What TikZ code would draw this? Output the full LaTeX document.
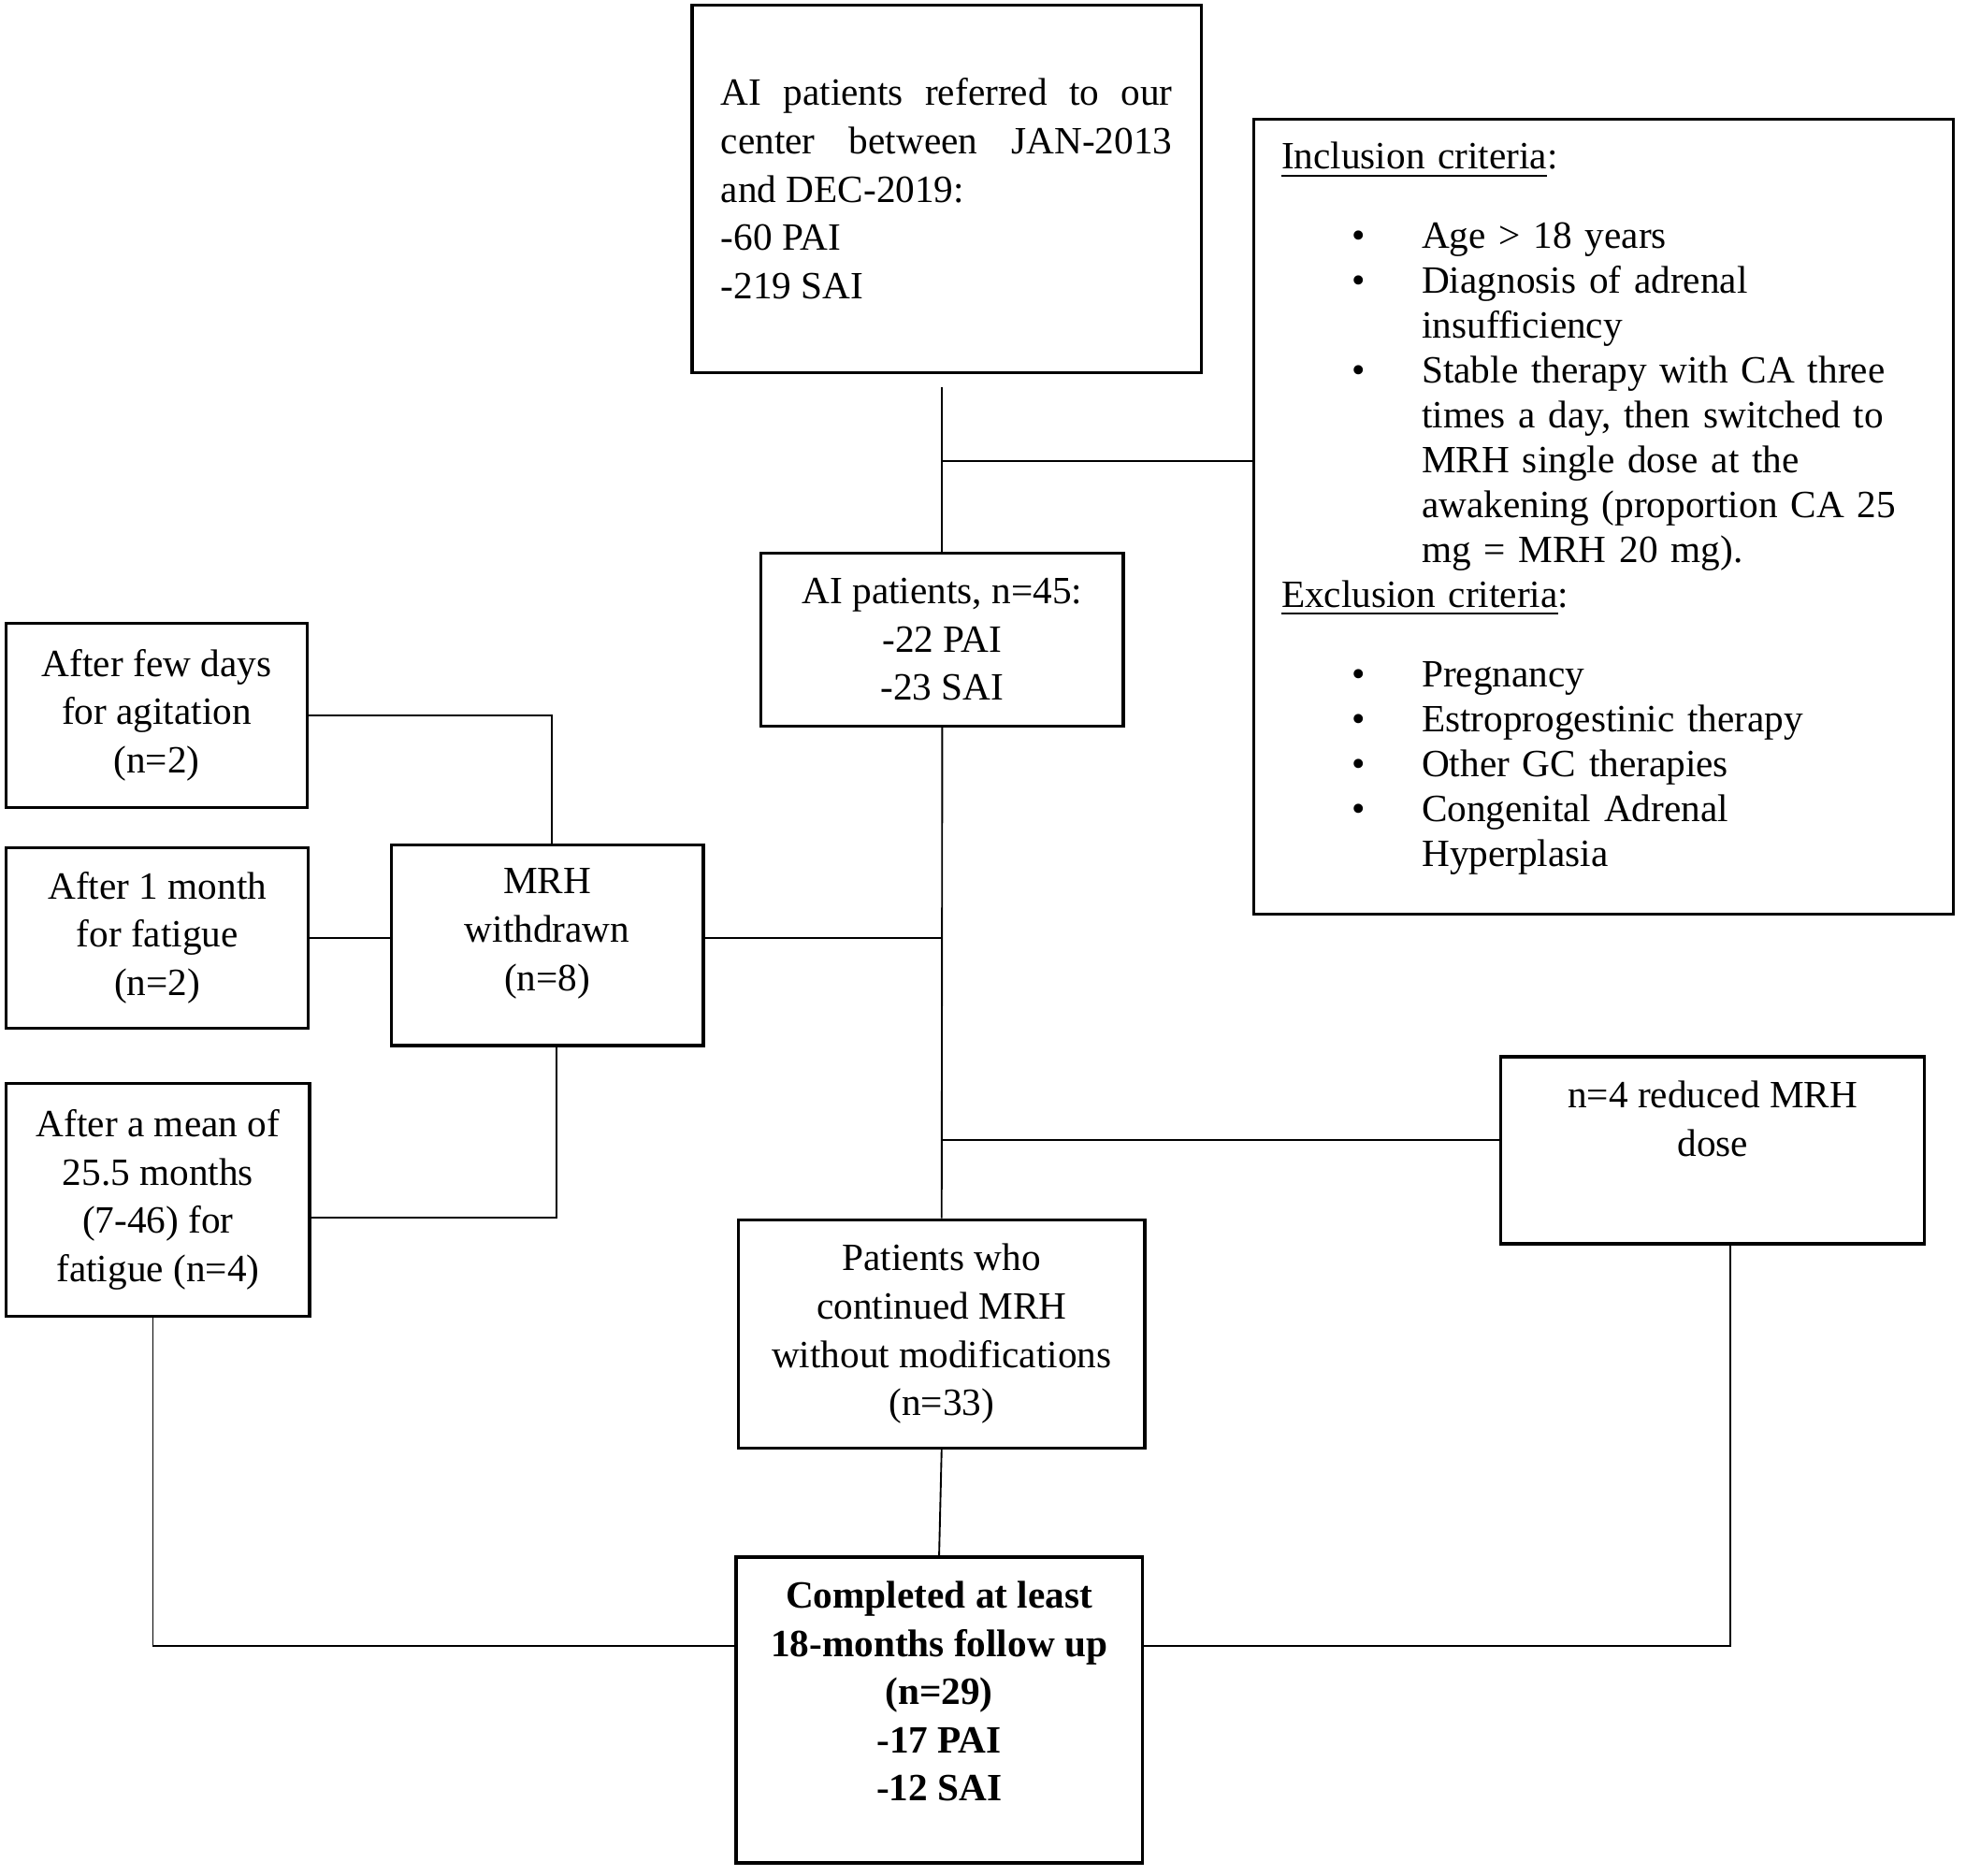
\documentclass[tikz,border=0pt]{standalone}
\usepackage{fontspec}
\setmainfont{Liberation Serif}
\usepackage{tikz}

\newcommand{\critbullet}{\hspace*{5.6mm}\makebox[5.6mm][l]{\textbullet}}
\newcommand{\critindent}{\hspace*{11.2mm}}
\newcommand{\lowpad}[1]{\rule[-#1]{0pt}{#1}}

\tikzset{
  box/.style={draw, line width=0.7pt, inner sep=0pt, align=center},
  link/.style={line width=0.4pt},
}

\begin{document}
\begin{tikzpicture}[x=0.1mm, y=-0.1mm]
  \fontsize{8.76pt}{10.95pt}\selectfont
  \useasboundingbox (0,0) rectangle (1568,1496);

  \node[box, minimum width=40.6mm, minimum height=29.3mm, text width=36mm, align=justify] (top) at (755,150.5)
    {AI patients referred to our\linebreak center between JAN-2013\linebreak and DEC-2019:\\-60 PAI\\-219 SAI};
  \node[box, minimum width=55.8mm, minimum height=63.4mm, text width=51.4mm, align=left,
        font=\fontsize{8.76pt}{10.19pt}\selectfont] (crit) at (1279,412)
    {\underline{Inclusion criteria}:\\[2.7mm]
     \critbullet Age > 18 years\\
     \critbullet Diagnosis of adrenal\\
     \critindent insufficiency\\
     \critbullet Stable therapy with CA three\\
     \critindent times a day, then switched to\\
     \critindent MRH single dose at the\\
     \critindent awakening (proportion CA 25\\
     \critindent mg = MRH 20 mg).\\
     \underline{Exclusion criteria}:\\[2.8mm]
     \critbullet Pregnancy\\
     \critbullet Estroprogestinic therapy\\
     \critbullet Other GC therapies\\
     \critbullet Congenital Adrenal\\
     \critindent Hyperplasia\lowpad{1.9mm}};
  \node[box, minimum width=28.9mm, minimum height=13.8mm] (ai) at (751.5,510) {AI patients, n=45:\\-22 PAI\\-23 SAI};
  \node[box, minimum width=24mm, minimum height=14.7mm] (few) at (125,570.5) {After few days\\for agitation\\(n=2)};
  \node[box, minimum width=24.1mm, minimum height=14.4mm] (month) at (125.5,748) {After 1 month\\for fatigue\\(n=2)};
  \node[box, minimum width=24.9mm, minimum height=16mm] (mrh) at (436.5,754) {MRH\\withdrawn\\(n=8)\lowpad{2.5mm}};
  \node[box, minimum width=24.2mm, minimum height=18.6mm] (mean) at (126,957) {After a mean of\\25.5 months\\(7-46) for\\fatigue (n=4)};
  \node[box, minimum width=33.8mm, minimum height=14.9mm] (red) at (1366,917.5)
    {n=4 reduced MRH\\dose\lowpad{5mm}};
  \node[box, minimum width=32.4mm, minimum height=18.2mm] (cont) at (751,1064) {Patients who\\continued MRH\\without modifications\\(n=33)};
  \node[box, minimum width=32.4mm, minimum height=24.4mm, font=\bfseries] (fin) at (749,1364)
    {Completed at least\\18-months follow up\\(n=29)\\-17 PAI\\-12 SAI\lowpad{3mm}};

  \coordinate (incl) at (751.5,368);
  \coordinate (redin) at ([yshift=0.85mm]red.west);
  \coordinate (finl) at ([yshift=5.1mm]fin.west);
  \coordinate (finr) at ([yshift=5.1mm]fin.east);

  \draw[link] (ai.north) -- ++(0,-131);
  \draw[link] (incl) -- (incl -| crit.west);
  \draw[link] (ai.south) -- (cont.north);
  \draw[link] (few.east) -| ([xshift=0.35mm]mrh.north);
  \draw[link] (month.east) -- (month.east -| mrh.west);
  \draw[link] (mrh.east |- month.east) -- (month.east -| ai.south);
  \draw[link] ([xshift=0.75mm]mrh.south) |- ([yshift=-1.4mm]mean.east);
  \draw[link] (redin -| cont.north) -- (redin);
  \draw[link] (cont.south) -- (fin.north);
  \draw[link] ([xshift=-0.4mm]mean.south) |- (finl);
  \draw[link] ([xshift=1.4mm]red.south) |- (finr);
\end{tikzpicture}
\end{document}
